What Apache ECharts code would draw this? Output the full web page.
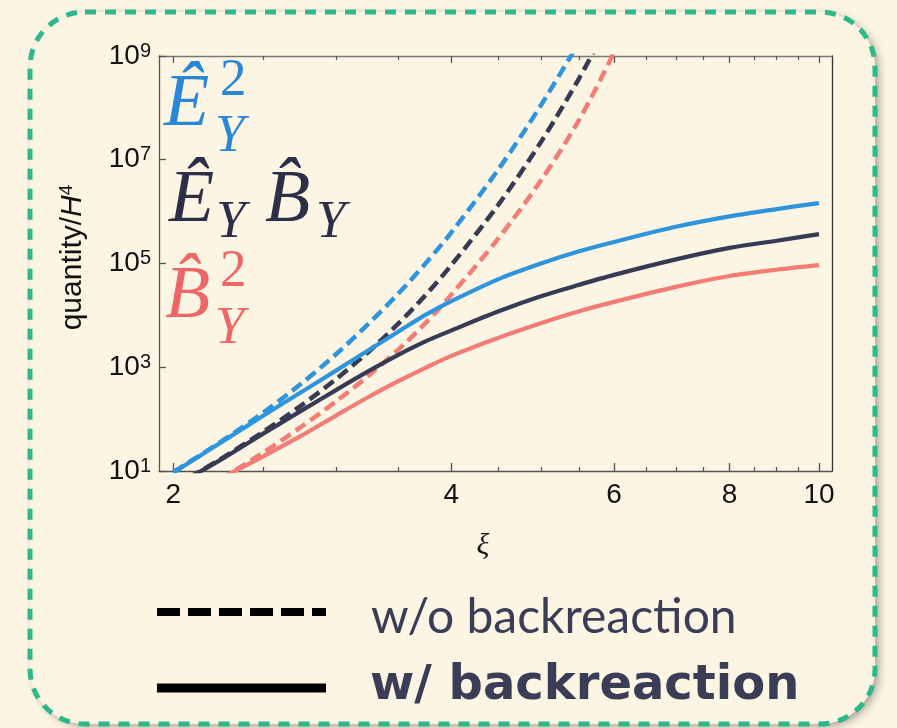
<!DOCTYPE html>
<html><head><meta charset="utf-8">
<script src="https://cdn.jsdelivr.net/npm/echarts@6/dist/echarts.min.js"></script>
<style>html,body{margin:0;padding:0;background:#fdf5e3;} #c{width:897px;height:728px;}</style>
</head><body><div id="c"></div>
<script>
// ---- data ----
const xiNoBR = [2.0, 2.25, 2.5, 2.75, 3.0, 3.25, 3.5, 3.75, 4.0, 4.5, 5.0, 5.5, 6.0, 6.5];
const xiBR   = [2.0, 2.25, 2.5, 2.75, 3.0, 3.25, 3.5, 3.75, 4.0, 4.5, 5.0, 5.5, 6.0, 7.0, 8.0, 9.0, 10.0];

// without backreaction (dashed)
const E2_noBR = [9.55, 36.3, 132, 479, 1.78e3, 6.76e3, 2.57e4, 1.0e5, 3.98e5, 6.61e6, 1.12e8, 1.86e9];
const EB_noBR = [5.0, 17.0, 56.2, 182, 589, 1.95e3, 6.76e3, 2.45e4, 9.33e4, 1.38e6, 2.19e7, 3.72e8, 6.76e9];
const B2_noBR = [2.04, 6.92, 22.4, 70.8, 219, 676, 2.14e3, 7.08e3, 2.51e4, 3.09e5, 3.98e6, 5.89e7, 1.17e9, 2.63e10];

// with backreaction (solid)
const E2_BR = [9.3, 35.0, 115, 330, 861, 2.11e3, 4.79e3, 1.02e4, 1.88e4, 5.01e4, 1.0e5, 1.72e5, 2.6e5, 5.1e5, 8.1e5, 1.12e6, 1.46e6];
const EB_BR = [5.0, 16.4, 51.9, 144, 363, 832, 1.72e3, 3.16e3, 5.13e3, 1.2e4, 2.34e4, 3.89e4, 6.03e4, 1.2e5, 2.0e5, 2.75e5, 3.68e5];
const B2_BR = [2.5, 7.16, 19.0, 47.4, 117, 264, 532, 977, 1.66e3, 3.72e3, 7.08e3, 1.2e4, 1.82e4, 3.55e4, 5.75e4, 7.59e4, 9.27e4];

const xMajorTicks = [2, 4, 6, 8, 10];
const xMinorTicks = [2.5, 3, 3.5, 4.5, 5, 5.5, 6.5, 7, 7.5, 8.5, 9, 9.5];

// ---- styling ----
const CREAM = '#fdf5e3';
const BLUE = '#2e95dd', DARK = '#363a54', RED = '#f47c77';
const BLUE_T = '#2a86d6', DARK_T = '#2c2f47', RED_T = '#ee6666';
const SANS = '"Liberation Sans", Arial, sans-serif';
const SERIF = '"Liberation Serif", "DejaVu Serif", serif';
const AX = '#555';

function pairs(xs, ys) { return ys.map((y, i) => [xs[i], y]); }

function line(name, xs, ys, color, dashed) {
  return {
    name: name, type: 'line', xAxisIndex: 0, yAxisIndex: 0,
    data: pairs(xs, ys), showSymbol: false, smooth: 0.3, clip: true,
    lineStyle: { color: color, width: dashed ? 4.5 : 4.2, type: dashed ? [12, 6] : 'solid', cap: 'butt' },
    z: dashed ? 2 : 3, silent: true, animation: false
  };
}

function mtext(str, x, base, size, color, italic) {
  return { type: 'text', x: x, y: base - 0.305 * size, z: 20,
    style: { text: str, fontFamily: SERIF, fontStyle: italic ? 'italic' : 'normal',
      fontSize: size, fill: color, align: 'left', verticalAlign: 'middle' } };
}

const xBase = { type: 'log', min: 1.93, max: 10.33, gridIndex: 0, splitLine: { show: false }, minorTick: { show: false } };

const option = {
  backgroundColor: CREAM,
  animation: false,
  grid: { left: 159, top: 56, right: 65, bottom: 257, containLabel: false },
  xAxis: [
    Object.assign({}, xBase, {
      position: 'bottom',
      axisLine: { show: true, lineStyle: { color: AX, width: 1.3 } },
      axisTick: { show: true, inside: true, length: 8, customValues: xMajorTicks, lineStyle: { color: AX, width: 1.3 } },
      axisLabel: { show: true, customValues: xMajorTicks, margin: 10, fontSize: 28, fontFamily: SANS, color: '#111',
        formatter: v => String(Math.round(v)) },
      name: 'ξ', nameLocation: 'middle', nameGap: 60,
      nameTextStyle: { fontFamily: SERIF, fontStyle: 'italic', fontSize: 30, color: '#111', padding: [0, 25, 0, 0] }
    }),
    Object.assign({}, xBase, {
      position: 'bottom', axisLine: { show: false },
      axisTick: { show: true, inside: true, length: 4, customValues: xMinorTicks, lineStyle: { color: AX, width: 1.2 } },
      axisLabel: { show: false }
    }),
    Object.assign({}, xBase, {
      position: 'top',
      axisLine: { show: true, lineStyle: { color: '#777', width: 1.3 } },
      axisTick: { show: true, inside: true, length: 7, customValues: xMajorTicks, lineStyle: { color: AX, width: 1.3 } },
      axisLabel: { show: false }
    }),
    Object.assign({}, xBase, {
      position: 'top', axisLine: { show: false },
      axisTick: { show: true, inside: true, length: 4, customValues: xMinorTicks, lineStyle: { color: AX, width: 1.2 } },
      axisLabel: { show: false }
    })
  ],
  yAxis: [
    {
      type: 'log', min: 10, max: 1e9, interval: 2, position: 'left', gridIndex: 0,
      splitLine: { show: false }, minorTick: { show: false },
      axisLine: { show: true, lineStyle: { color: AX, width: 1.3 } },
      axisTick: { show: true, inside: true, length: 7, lineStyle: { color: AX, width: 1.3 } },
      axisLabel: {
        margin: 8, color: '#111',
        formatter: v => '{b|10}{s|' + Math.round(Math.log10(v)) + '}',
        rich: {
          b: { fontSize: 28, fontFamily: SANS, color: '#111', lineHeight: 30 },
          s: { fontSize: 20, fontFamily: SANS, color: '#111', lineHeight: 18, verticalAlign: 'top' }
        }
      },
      name: '{a|quantity/}{h|H}{s|4}', nameLocation: 'middle', nameGap: 70, nameRotate: 90,
      nameTextStyle: {
        padding: [0, 0, 0, 12],
        rich: {
          a: { fontSize: 30, fontFamily: SANS, color: '#111', lineHeight: 32 },
          h: { fontSize: 30, fontFamily: SANS, fontStyle: 'italic', color: '#111', lineHeight: 32 },
          s: { fontSize: 19, fontFamily: SANS, color: '#111', lineHeight: 18, verticalAlign: 'top' }
        }
      }
    },
    {
      type: 'log', min: 10, max: 1e9, position: 'right', gridIndex: 0,
      splitLine: { show: false }, axisTick: { show: false }, axisLabel: { show: false },
      axisLine: { show: true, lineStyle: { color: '#333', width: 1.3 } }
    }
  ],
  series: [
    line('E2 w/o', xiNoBR, E2_noBR, BLUE, true),
    line('EB w/o', xiNoBR, EB_noBR, DARK, true),
    line('B2 w/o', xiNoBR, B2_noBR, RED, true),
    line('E2 w/', xiBR, E2_BR, BLUE, false),
    line('EB w/', xiBR, EB_BR, DARK, false),
    line('B2 w/', xiBR, B2_BR, RED, false)
  ],
  graphic: [
    { type: 'rect', z: -10, shape: { x: 30, y: 12, width: 845, height: 712, r: 55 },
      style: { fill: CREAM, shadowBlur: 9, shadowColor: 'rgba(0,0,0,0.32)', shadowOffsetX: 4, shadowOffsetY: 3 } },
    { type: 'rect', z: -9, shape: { x: 30, y: 12, width: 845, height: 712, r: 55 },
      style: { fill: 'none', stroke: '#2db88b', lineWidth: 5, lineDash: [11, 9] } },
    // math labels
    mtext('Ê', 164, 128, 74, BLUE_T, true),
    mtext('Y', 215, 153, 53, BLUE_T, true),
    mtext('2', 220, 97, 53, BLUE_T, false),

    mtext('Ê', 169, 224, 74, DARK_T, true),
    mtext('Y', 216, 239, 53, DARK_T, true),
    mtext('B\u0302', 265, 224, 74, DARK_T, true),
    mtext('Y', 316, 239, 53, DARK_T, true),

    mtext('B\u0302', 165, 320, 74, RED_T, true),
    mtext('Y', 215, 345, 53, RED_T, true),
    mtext('2', 220, 288, 53, RED_T, false),
    // legend
    { type: 'line', z: 20, shape: { x1: 157, y1: 612, x2: 326, y2: 612 }, style: { stroke: '#000', lineWidth: 8, lineDash: [23, 8] } },
    { type: 'line', z: 20, shape: { x1: 157, y1: 688, x2: 326, y2: 688 }, style: { stroke: '#000', lineWidth: 9 } },
    { type: 'text', z: 20, x: 371, y: 618, style: { text: 'w/o backreaction', fontFamily: 'Lato, "Open Sans", sans-serif', fontSize: 48, fill: '#3b3d56', align: 'left', verticalAlign: 'middle' } },
    { type: 'text', z: 20, x: 370, y: 687, style: { text: 'w/ backreaction', fontFamily: '"DejaVu Sans", sans-serif', fontWeight: 'bold', fontSize: 48, fill: '#3b3d56', align: 'left', verticalAlign: 'middle' } }
  ]
};

const chart = echarts.init(document.getElementById('c'), null, { renderer: 'canvas', width: 897, height: 728 });
chart.setOption(option);
</script>
</body></html>
